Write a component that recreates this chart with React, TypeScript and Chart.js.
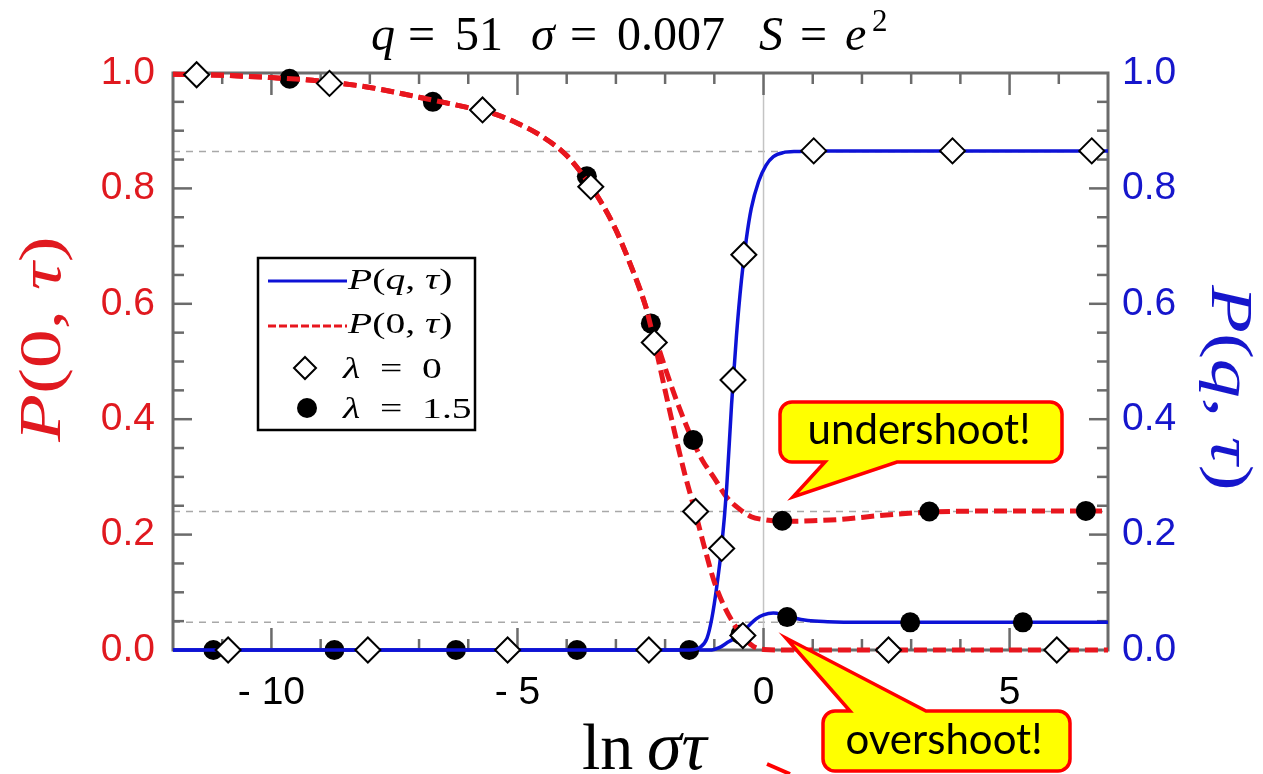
import { useEffect, useRef } from "react";
import { Chart, registerables } from "chart.js";

Chart.register(...registerables);

// ---------- axis ranges & ticks ----------
const X_MIN = -12;
const X_MAX = 7;
const Y_MIN = 0;
const Y_MAX = 1;
const X_TICKS = [-10, -5, 0, 5];
const Y_TICKS = [0, 0.2, 0.4, 0.6, 0.8, 1.0];
const REF_LEVELS = [0.864, 0.24, 0.048];
const ZERO_LINE_X = 0;

// ---------- P(0,τ), λ = 1.5 (red dashed, upper branch) ----------
const P0_L15_X = [-12, -11, -10, -9, -8, -7, -6, -5.5, -5, -4.5, -4, -3.6, -3.3, -3, -2.7, -2.4, -2.1, -1.8, -1.5, -1.25, -1, -0.75, -0.5, -0.25, 0, 0.4, 1, 1.5, 2.5, 3.4, 5, 7];
const P0_L15_Y = [0.998, 0.996, 0.992, 0.986, 0.975, 0.958, 0.94, 0.93, 0.913, 0.89, 0.857, 0.815, 0.776, 0.728, 0.667, 0.597, 0.515, 0.44, 0.375, 0.33, 0.298, 0.265, 0.245, 0.231, 0.226, 0.223, 0.224, 0.226, 0.234, 0.239, 0.241, 0.241];

// ---------- P(0,τ), λ = 0 (red dashed, goes to zero) ----------
const P0_L0_X = [-12, -11, -10, -9, -8, -7, -6, -5.5, -5, -4.5, -4, -3.6, -3.3, -3, -2.7, -2.4, -2.2, -2, -1.8, -1.6, -1.4, -1.2, -1, -0.8, -0.6, -0.4, -0.2, 0, 0.5, 7];
const P0_L0_Y = [0.998, 0.996, 0.992, 0.986, 0.975, 0.958, 0.94, 0.93, 0.913, 0.89, 0.857, 0.815, 0.776, 0.728, 0.667, 0.597, 0.527, 0.45, 0.375, 0.305, 0.243, 0.178, 0.118, 0.076, 0.045, 0.021, 0.006, 0.001, 0, 0];

// ---------- P(q,τ), λ = 0 (blue solid, rises to 0.864) ----------
const PQ_L0_X = [-12, -1.5, -1.3, -1.15, -1.05, -0.95, -0.85, -0.75, -0.65, -0.55, -0.45, -0.35, -0.25, -0.1, 0.05, 0.2, 0.4, 0.7, 1, 7];
const PQ_L0_Y = [0, 0, 0.004, 0.02, 0.055, 0.11, 0.18, 0.28, 0.425, 0.545, 0.64, 0.712, 0.765, 0.812, 0.84, 0.855, 0.862, 0.864, 0.865, 0.865];

// ---------- P(q,τ), λ = 1.5 (blue solid, small overshoot) ----------
const PQ_L15_X = [-12, -1.05, -0.9, -0.75, -0.6, -0.45, -0.3, -0.15, 0, 0.2, 0.4, 0.6, 0.9, 1.3, 2, 7];
const PQ_L15_Y = [0, 0, 0.004, 0.012, 0.02, 0.03, 0.042, 0.054, 0.061, 0.064, 0.061, 0.056, 0.051, 0.049, 0.048, 0.048];

// ---------- simulation markers ----------
const DIAMOND_X = [-11.52, -8.82, -5.71, -3.51, -2.22, -1.38, -0.85, -0.62, -0.4, 1.02, 3.84, 6.67, -10.88, -8.04, -5.2, -2.33, 2.54, 5.96, -0.42];
const DIAMOND_Y = [0.997, 0.982, 0.936, 0.803, 0.533, 0.24, 0.176, 0.468, 0.685, 0.865, 0.865, 0.865, 0, 0, 0, 0, 0, 0, 0.025];
const CIRCLE_X = [-9.63, -6.72, -3.59, -2.29, -1.43, 0.38, 3.37, 6.55, -11.18, -8.72, -6.25, -3.79, -1.51, -0.47, 0.48, 2.98, 5.27];
const CIRCLE_Y = [0.99, 0.95, 0.821, 0.566, 0.364, 0.224, 0.24, 0.241, 0, 0, 0, 0, 0, 0.027, 0.057, 0.048, 0.048];

// ---------- styles ----------
const RED = "#e8161e";
const BLUE = "#0d12d6";
const LABEL_RED = "#e0191f";
const LABEL_BLUE = "#1616cc";
const FRAME = "#6b6b6b";
const SERIF = '"Liberation Serif", "DejaVu Serif", serif';
const SANS = '"Liberation Sans", Arial, sans-serif';

const pts = (xs: number[], ys: number[]) => xs.map((x, i) => ({ x, y: ys[i] }));

type Seg = [string, boolean];

function segFont(it: boolean, size: number) {
  return `${it ? "italic " : ""}${size}px ${SERIF}`;
}

function drawMath(ctx: CanvasRenderingContext2D, segs: Seg[], x: number, y: number, size: number, color: string, sx: number, align: "left" | "center") {
  ctx.save();
  ctx.translate(x, y);
  ctx.scale(sx, 1);
  let w = 0;
  for (const [t, it] of segs) {
    ctx.font = segFont(it, size);
    w += ctx.measureText(t).width;
  }
  let cx = align === "center" ? -w / 2 : 0;
  ctx.fillStyle = color;
  ctx.textBaseline = "alphabetic";
  ctx.textAlign = "left";
  for (const [t, it] of segs) {
    ctx.font = segFont(it, size);
    ctx.fillText(t, cx, 0);
    cx += ctx.measureText(t).width;
  }
  ctx.restore();
}

function seg(ctx: CanvasRenderingContext2D, x1: number, y1: number, x2: number, y2: number) {
  ctx.beginPath();
  ctx.moveTo(x1, y1);
  ctx.lineTo(x2, y2);
  ctx.stroke();
}

function bubble(
  ctx: CanvasRenderingContext2D,
  L: number, T: number, R: number, B: number, r: number,
  edge: "top" | "bottom", a: number, b: number, tx: number, ty: number
) {
  ctx.beginPath();
  ctx.moveTo(L + r, T);
  if (edge === "top") {
    ctx.lineTo(a, T);
    ctx.lineTo(tx, ty);
    ctx.lineTo(b, T);
  }
  ctx.lineTo(R - r, T);
  ctx.arcTo(R, T, R, T + r, r);
  ctx.lineTo(R, B - r);
  ctx.arcTo(R, B, R - r, B, r);
  if (edge === "bottom") {
    ctx.lineTo(b, B);
    ctx.lineTo(tx, ty);
    ctx.lineTo(a, B);
  }
  ctx.lineTo(L + r, B);
  ctx.arcTo(L, B, L, B - r, r);
  ctx.lineTo(L, T + r);
  ctx.arcTo(L, T, L + r, T, r);
  ctx.closePath();
  ctx.fillStyle = "#ffff00";
  ctx.fill();
  ctx.strokeStyle = "#ff0000";
  ctx.lineWidth = 3.5;
  ctx.lineJoin = "miter";
  ctx.stroke();
}

const framePlugin = {
  id: "framePlugin",
  beforeDatasetsDraw(chart: any) {
    const { ctx, chartArea: a, scales } = chart;
    const xs = scales.x;
    const ys = scales.y;
    ctx.save();
    // reference dashed levels
    ctx.strokeStyle = "#a8a8a8";
    ctx.lineWidth = 1.5;
    ctx.setLineDash([7, 6]);
    for (const v of REF_LEVELS) {
      const py = ys.getPixelForValue(v);
      seg(ctx, a.left, py, a.right, py);
    }
    ctx.setLineDash([]);
    // vertical line at zero
    ctx.strokeStyle = "#c4c4c4";
    ctx.lineWidth = 1.5;
    const p0 = xs.getPixelForValue(ZERO_LINE_X);
    seg(ctx, p0, a.top, p0, a.bottom);
    // inward ticks
    ctx.strokeStyle = FRAME;
    ctx.lineWidth = 2.5;
    for (let v = X_MIN + 1; v < X_MAX; v++) {
      const len = v % 5 === 0 ? 22 : 11;
      const px = xs.getPixelForValue(v);
      seg(ctx, px, a.bottom, px, a.bottom - len);
      seg(ctx, px, a.top, px, a.top + len);
    }
    for (let i = 1; i < 20; i++) {
      const v = i * 0.05;
      const len = i % 4 === 0 ? 19 : 11;
      const py = ys.getPixelForValue(v);
      seg(ctx, a.left, py, a.left + len, py);
      seg(ctx, a.right, py, a.right - len, py);
    }
    // frame
    ctx.lineWidth = 3;
    ctx.strokeRect(a.left, a.top, a.right - a.left, a.bottom - a.top);
    ctx.restore();
  },
  afterDraw(chart: any) {
    const { ctx } = chart;
    ctx.save();

    // ---- title ----
    const titleSegs: { t: string; it: boolean; x: number; size: number; y: number }[] = [
      { t: "q", it: true, x: 371, size: 48, y: 50 },
      { t: "=", it: false, x: 408, size: 48, y: 50 },
      { t: "51", it: false, x: 455, size: 48, y: 50 },
      { t: "σ", it: true, x: 531, size: 48, y: 50 },
      { t: "=", it: false, x: 570, size: 48, y: 50 },
      { t: "0.007", it: false, x: 617, size: 48, y: 50 },
      { t: "S", it: true, x: 759, size: 48, y: 50 },
      { t: "=", it: false, x: 800, size: 48, y: 50 },
      { t: "e", it: true, x: 845, size: 48, y: 50 },
      { t: "2", it: false, x: 872, size: 31, y: 31 },
    ];
    ctx.fillStyle = "#000";
    ctx.textAlign = "left";
    ctx.textBaseline = "alphabetic";
    for (const s of titleSegs) {
      ctx.font = segFont(s.it, s.size);
      ctx.fillText(s.t, s.x, s.y);
    }

    // ---- x axis title ----
    ctx.font = segFont(false, 66);
    ctx.fillText("ln", 582, 769);
    ctx.font = segFont(true, 70);
    ctx.fillText("στ", 647, 769);

    // ---- y axis titles ----
    const p0Segs: Seg[] = [["P", true], ["(", false], ["0", false], [", ", false], ["τ", true], [")", false]];
    const pqSegs: Seg[] = [["P", true], ["(", false], ["q", true], [", ", false], ["τ", true], [")", false]];
    ctx.save();
    ctx.translate(60, 339);
    ctx.rotate(-Math.PI / 2);
    drawMath(ctx, p0Segs, 0, 0, 60, LABEL_RED, 1.3, "center");
    ctx.restore();
    ctx.save();
    ctx.translate(1212, 388);
    ctx.rotate(Math.PI / 2);
    drawMath(ctx, pqSegs, 0, 0, 60, LABEL_BLUE, 1.3, "center");
    ctx.restore();

    // ---- legend ----
    ctx.fillStyle = "#fff";
    ctx.fillRect(258, 258, 217, 172);
    ctx.strokeStyle = "#000";
    ctx.lineWidth = 2.5;
    ctx.strokeRect(258, 258, 217, 172);
    ctx.strokeStyle = BLUE;
    ctx.lineWidth = 3;
    seg(ctx, 268, 281, 347, 281);
    ctx.strokeStyle = RED;
    ctx.setLineDash([8, 3]);
    seg(ctx, 268, 326, 347, 326);
    ctx.setLineDash([]);
    drawMath(ctx, pqSegs, 348, 289, 30, "#000", 1.32, "left");
    drawMath(ctx, p0Segs, 348, 333, 30, "#000", 1.32, "left");
    drawMath(ctx, [["λ", true], ["\u2002=\u2002", false], ["0", false]], 343, 378, 30, "#000", 1.32, "left");
    drawMath(ctx, [["λ", true], ["\u2002=\u2002", false], ["1.5", false]], 343, 418, 30, "#000", 1.32, "left");
    // legend symbols
    ctx.beginPath();
    ctx.moveTo(305, 357);
    ctx.lineTo(316, 368);
    ctx.lineTo(305, 379);
    ctx.lineTo(294, 368);
    ctx.closePath();
    ctx.fillStyle = "#fff";
    ctx.fill();
    ctx.strokeStyle = "#000";
    ctx.lineWidth = 2;
    ctx.stroke();
    ctx.beginPath();
    ctx.arc(307, 408, 10, 0, Math.PI * 2);
    ctx.fillStyle = "#000";
    ctx.fill();

    // ---- callouts ----
    bubble(ctx, 780, 402, 1062, 462, 12, "bottom", 825, 897, 793, 497);
    bubble(ctx, 823, 711, 1070, 771, 12, "top", 850, 926, 786, 638);
    ctx.fillStyle = "#000";
    ctx.font = `42px Lato, "Open Sans", sans-serif`;
    ctx.textAlign = "center";
    ctx.textBaseline = "middle";
    ctx.fillText("undershoot!", 919, 430);
    ctx.fillText("overshoot!", 944, 740);

    // small red stroke fragment near bottom
    ctx.strokeStyle = "#ff0000";
    ctx.lineWidth = 4;
    seg(ctx, 767, 764, 790, 774);

    ctx.restore();
  },
};

export default function App() {
  const ref = useRef<HTMLCanvasElement>(null);
  useEffect(() => {
    const canvas = ref.current;
    if (!canvas) return;
    const lineBase = {
      showLine: true,
      pointRadius: 0,
      fill: false,
      cubicInterpolationMode: "monotone" as const,
      clip: false as const,
    };
    const chart = new Chart(canvas, {
      type: "scatter",
      data: {
        datasets: [
          {
            label: "λ = 0",
            data: pts(DIAMOND_X, DIAMOND_Y),
            pointStyle: "rectRot",
            pointRadius: 12.5,
            backgroundColor: "#ffffff",
            borderColor: "#000000",
            borderWidth: 2,
            order: 0,
            clip: false,
          },
          {
            ...lineBase,
            label: "P(0,τ) λ=0",
            data: pts(P0_L0_X, P0_L0_Y),
            borderColor: RED,
            borderWidth: 5,
            borderDash: [13, 6],
            order: 1,
          },
          {
            ...lineBase,
            label: "P(q,τ) λ=0",
            data: pts(PQ_L0_X, PQ_L0_Y),
            borderColor: BLUE,
            borderWidth: 3.5,
            order: 1,
          },
          {
            label: "λ = 1.5",
            data: pts(CIRCLE_X, CIRCLE_Y),
            pointStyle: "circle",
            pointRadius: 10,
            backgroundColor: "#000000",
            borderColor: "#000000",
            borderWidth: 0,
            order: 2,
            clip: false,
          },
          {
            ...lineBase,
            label: "P(0,τ) λ=1.5",
            data: pts(P0_L15_X, P0_L15_Y),
            borderColor: RED,
            borderWidth: 5,
            borderDash: [13, 6],
            order: 3,
          },
          {
            ...lineBase,
            label: "P(q,τ) λ=1.5",
            data: pts(PQ_L15_X, PQ_L15_Y),
            borderColor: BLUE,
            borderWidth: 3.5,
            order: 3,
          },
        ] as any,
      },
      options: {
        responsive: false,
        animation: false,
        devicePixelRatio: 1,
        layout: { padding: { top: 73, left: 0, right: 0, bottom: 0 } },
        plugins: {
          legend: { display: false },
          tooltip: { enabled: false },
          title: { display: false },
        },
        scales: {
          x: {
            type: "linear",
            min: X_MIN,
            max: X_MAX,
            grid: { display: false, drawTicks: false },
            border: { display: false },
            afterBuildTicks: (s: any) => {
              s.ticks = X_TICKS.map((v) => ({ value: v }));
            },
            afterFit: (s: any) => {
              s.height = 124;
            },
            ticks: {
              autoSkip: false,
              maxRotation: 0,
              padding: 20,
              color: "#000",
              font: { family: SANS, size: 39 },
              callback: (v: any) => (Number(v) < 0 ? `- ${Math.abs(Number(v))}` : `${v}`),
            },
          },
          y: {
            type: "linear",
            position: "left",
            min: Y_MIN,
            max: Y_MAX,
            grid: { display: false, drawTicks: false },
            border: { display: false },
            afterBuildTicks: (s: any) => {
              s.ticks = Y_TICKS.map((v) => ({ value: v }));
            },
            afterFit: (s: any) => {
              s.width = 173;
            },
            ticks: {
              padding: 18,
              color: LABEL_RED,
              font: { family: SANS, size: 39 },
              callback: (v: any) => Number(v).toFixed(1),
            },
          },
          y2: {
            type: "linear",
            position: "right",
            min: Y_MIN,
            max: Y_MAX,
            grid: { display: false, drawTicks: false },
            border: { display: false },
            afterBuildTicks: (s: any) => {
              s.ticks = Y_TICKS.map((v) => ({ value: v }));
            },
            afterFit: (s: any) => {
              s.width = 155;
            },
            ticks: {
              padding: 14,
              color: LABEL_BLUE,
              font: { family: SANS, size: 39 },
              callback: (v: any) => Number(v).toFixed(1),
            },
          },
        },
      } as any,
      plugins: [framePlugin],
    });
    return () => chart.destroy();
  }, []);

  return (
    <div style={{ position: "fixed", left: 0, top: 0, width: 1263, height: 774, background: "#ffffff" }}>
      <canvas ref={ref} width={1263} height={774} style={{ display: "block", width: 1263, height: 774 }} />
    </div>
  );
}
